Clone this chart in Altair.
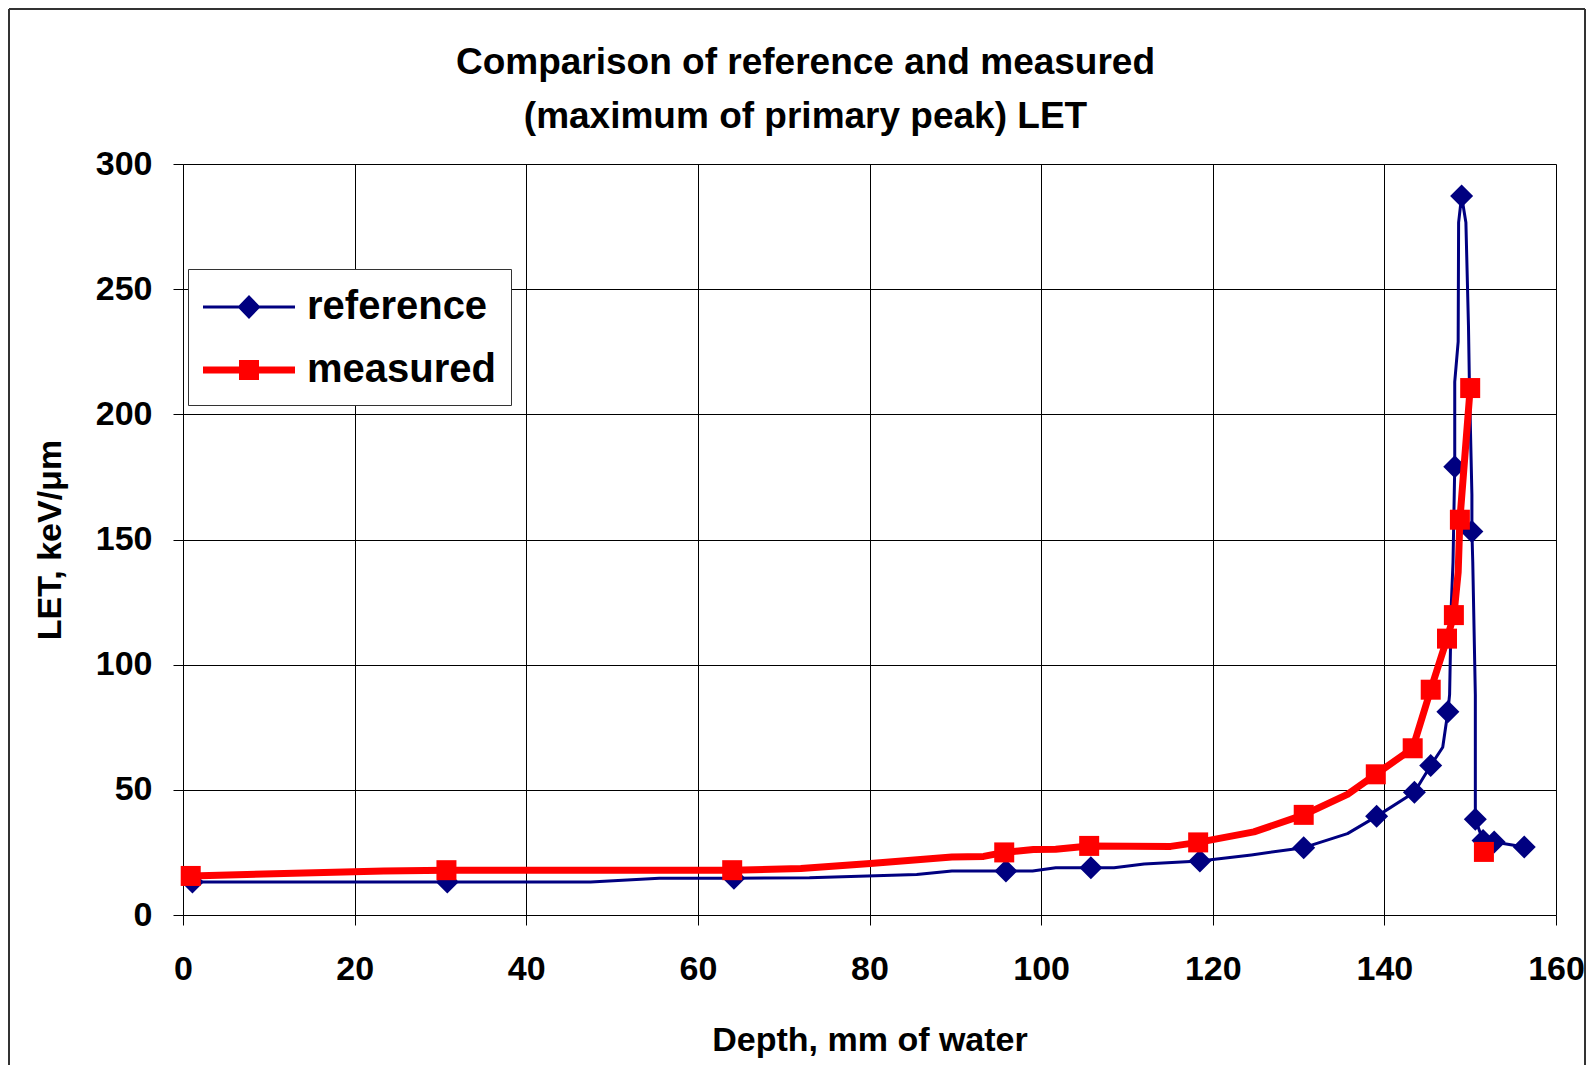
import altair as alt
import pandas as pd

# ---------------- data ----------------
series_names = ["reference", "measured"]

# reference: polyline vertices (depth mm, LET keV/um)
ref_line_x = [1.1, 30.8, 47.5, 55.5, 64.2, 73.0, 85.5, 89.6, 95.9, 99.0, 101.7, 105.8,
              108.5, 112.0, 118.5, 124.5, 130.6, 135.7, 139.1, 143.5, 145.4, 146.8,
              147.4, 147.6, 147.8, 148.0, 148.2, 148.2, 148.6, 148.65, 149.0, 149.5,
              149.8, 149.9, 150.2, 150.2, 150.3, 150.6, 150.6, 151.5, 152.8, 156.3]
ref_line_y = [13.2, 13.2, 13.2, 14.7, 14.7, 14.9, 16.2, 17.6, 17.6, 17.6, 18.9, 18.9,
              18.9, 20.4, 21.6, 24.0, 26.9, 32.5, 39.4, 49.0, 59.7, 67.0,
              81.2, 88.0, 124.0, 141.0, 179.1, 213.0, 229.0, 276.6, 287.2, 276.6,
              235.4, 214.0, 168.0, 153.2, 141.0, 88.0, 38.2, 29.8, 29.2, 27.2]
# reference: marker positions
ref_mark_x = [1.1, 30.8, 64.2, 95.9, 105.8, 118.5, 130.6, 139.1, 143.5, 145.4, 147.4,
              148.2, 149.0, 150.2, 150.6, 151.5, 152.8, 156.3]
ref_mark_y = [13.2, 13.2, 14.7, 17.6, 18.9, 21.6, 26.9, 39.4, 49.0, 59.7, 81.2,
              179.1, 287.2, 153.2, 38.2, 29.8, 29.2, 27.2]

# measured: polyline vertices
meas_line_x = [0.9, 23.4, 30.7, 64.0, 72.0, 80.1, 89.6, 93.3, 95.7, 99.1, 101.7, 105.6,
               115.1, 118.3, 124.8, 130.6, 135.7, 139.0, 143.3, 145.4, 147.3, 148.1,
               148.6, 148.8, 150.0]
meas_line_y = [15.6, 17.6, 17.9, 17.9, 18.6, 20.6, 23.2, 23.4, 25.0, 26.2, 26.3, 27.6,
               27.4, 29.0, 33.2, 40.0, 48.2, 56.2, 66.6, 90.0, 110.4, 119.8,
               137.0, 157.9, 210.5]
# measured: marker positions (the last one is not joined by the line)
meas_mark_x = [0.9, 30.7, 64.0, 95.7, 105.6, 118.3, 130.6, 139.0, 143.3, 145.4, 147.3,
               148.1, 148.8, 150.0, 151.6]
meas_mark_y = [15.6, 17.9, 17.9, 25.0, 27.6, 29.0, 40.0, 56.2, 66.6, 90.0, 110.4,
               119.8, 157.9, 210.5, 25.2]

x_ticks = [0, 20, 40, 60, 80, 100, 120, 140, 160]
y_ticks = [0, 50, 100, 150, 200, 250, 300]

title_lines = ["Comparison of reference and measured", "(maximum of primary peak) LET"]
x_title = "Depth, mm of water"
y_title = "LET, keV/\u03bcm"

# ---------------- styling ----------------
FONT = "Liberation Sans"
NAVY = "#000080"
RED = "#FF0000"
W, H = 1373, 751

ref_line = pd.DataFrame({"depth": ref_line_x, "value": ref_line_y, "i": range(len(ref_line_x))})
ref_mark = pd.DataFrame({"depth": ref_mark_x, "value": ref_mark_y})
meas_line = pd.DataFrame({"depth": meas_line_x, "value": meas_line_y, "i": range(len(meas_line_x))})
meas_mark = pd.DataFrame({"depth": meas_mark_x, "value": meas_mark_y})
legend_df = pd.DataFrame({"series": series_names, "depth": [0, 0], "value": [0, 0]})
frame_df = pd.DataFrame({"k": [0]})

x_enc = alt.X(
    "depth:Q",
    scale=alt.Scale(domain=[0, 160], nice=False, zero=False),
    axis=alt.Axis(
        values=x_ticks, title=x_title, grid=True, gridColor="black", gridWidth=1,
        gridOpacity=1, domain=False, tickColor="black", tickSize=10, tickWidth=1,
        labelFont=FONT, labelFontSize=34, labelFontWeight="bold", labelColor="black",
        labelPadding=27, labelFlush=False, labelOverlap=False,
        titleFont=FONT, titleFontSize=34, titleFontWeight="bold", titleColor="black",
        titleX=W / 2, titleY=125, titleBaseline="middle", titleAlign="center",
    ),
)
y_enc = alt.Y(
    "value:Q",
    scale=alt.Scale(domain=[0, 300], nice=False, zero=True),
    axis=alt.Axis(
        values=y_ticks, title=y_title, grid=True, gridColor="black", gridWidth=1,
        gridOpacity=1, domain=True, domainColor="black", domainWidth=1,
        tickColor="black", tickSize=10, tickWidth=1,
        labelFont=FONT, labelFontSize=34, labelFontWeight="bold", labelColor="black",
        labelPadding=21, labelFlush=False, labelOverlap=False,
        titleFont=FONT, titleFontSize=34, titleFontWeight="bold", titleColor="black",
        titleAngle=270, titleX=-133, titleY=H / 2, titleBaseline="middle",
        titleAlign="center",
    ),
)

# outer chart frame (top, left, right edges)
frame_style = dict(color="#333333", strokeWidth=2)
frame_top = alt.Chart(frame_df).mark_rule(**frame_style).encode(
    x=alt.value(-174), x2=alt.value(W + 29), y=alt.value(-155)
)
frame_left = alt.Chart(frame_df).mark_rule(**frame_style).encode(
    x=alt.value(-174), y=alt.value(-155), y2=alt.value(H + 300)
)
frame_right = alt.Chart(frame_df).mark_rule(**frame_style).encode(
    x=alt.value(W + 29), y=alt.value(-155), y2=alt.value(H + 300)
)

line_ref = alt.Chart(ref_line).mark_line(
    color=NAVY, strokeWidth=3, strokeJoin="round"
).encode(x=x_enc, y=y_enc, order=alt.Order("i:Q"))
pts_ref = alt.Chart(ref_mark).mark_point(
    shape="diamond", filled=True, color=NAVY, size=529, opacity=1
).encode(x=x_enc, y=y_enc)

line_meas = alt.Chart(meas_line).mark_line(
    color=RED, strokeWidth=7, strokeJoin="round", strokeCap="round"
).encode(x=x_enc, y=y_enc, order=alt.Order("i:Q"))
pts_meas = alt.Chart(meas_mark).mark_point(
    shape="square", filled=True, color=RED, size=400, opacity=1
).encode(x=x_enc, y=y_enc)

# legend symbols: a line with the marker in its middle (unit space, scaled by sqrt(size)/2)
ref_symbol = ("M-1,-0.065L0.56,-0.065L1,-0.52L1.44,-0.065L3,-0.065L3,0.065"
              "L1.44,0.065L1,0.52L0.56,0.065L-1,0.065Z")
meas_symbol = ("M-1,-0.152L0.565,-0.152L0.565,-0.435L1.435,-0.435L1.435,-0.152L3,-0.152"
               "L3,0.152L1.435,0.152L1.435,0.435L0.565,0.435L0.565,0.152L-1,0.152Z")

legend = alt.Legend(
    title=None, orient="none", legendX=5, legendY=105, padding=15,
    strokeColor="#333333", fillColor="white", symbolSize=2116, symbolStrokeWidth=0,
    symbolOpacity=1, labelFont=FONT, labelFontSize=40, labelFontWeight="bold",
    labelColor="black", labelOffset=58, labelLimit=500, rowPadding=20,
)
legend_layer = alt.Chart(legend_df).transform_filter("false").mark_point(
    filled=True, opacity=1
).encode(
    x=x_enc, y=y_enc,
    color=alt.Color("series:N", scale=alt.Scale(domain=series_names, range=[NAVY, RED]),
                    legend=legend),
    shape=alt.Shape("series:N", scale=alt.Scale(domain=series_names,
                                                range=[ref_symbol, meas_symbol]),
                    legend=legend),
)

chart = alt.layer(frame_top, frame_left, frame_right, line_ref, pts_ref, line_meas,
                  pts_meas, legend_layer).properties(
    width=W, height=H,
    padding={"left": 175, "top": 156, "right": 30, "bottom": 150},
    autosize=alt.AutoSizeParams(type="none"),
    title=alt.TitleParams(
        text=title_lines, font=FONT, fontSize=37, fontWeight="bold", color="black",
        anchor="middle", dx=-64, offset=-128, lineHeight=54,
    ),
).configure_view(stroke="#808080", strokeWidth=3).configure(background="white")

chart.save("out.html", embed_options={"renderer": "svg", "actions": False})
